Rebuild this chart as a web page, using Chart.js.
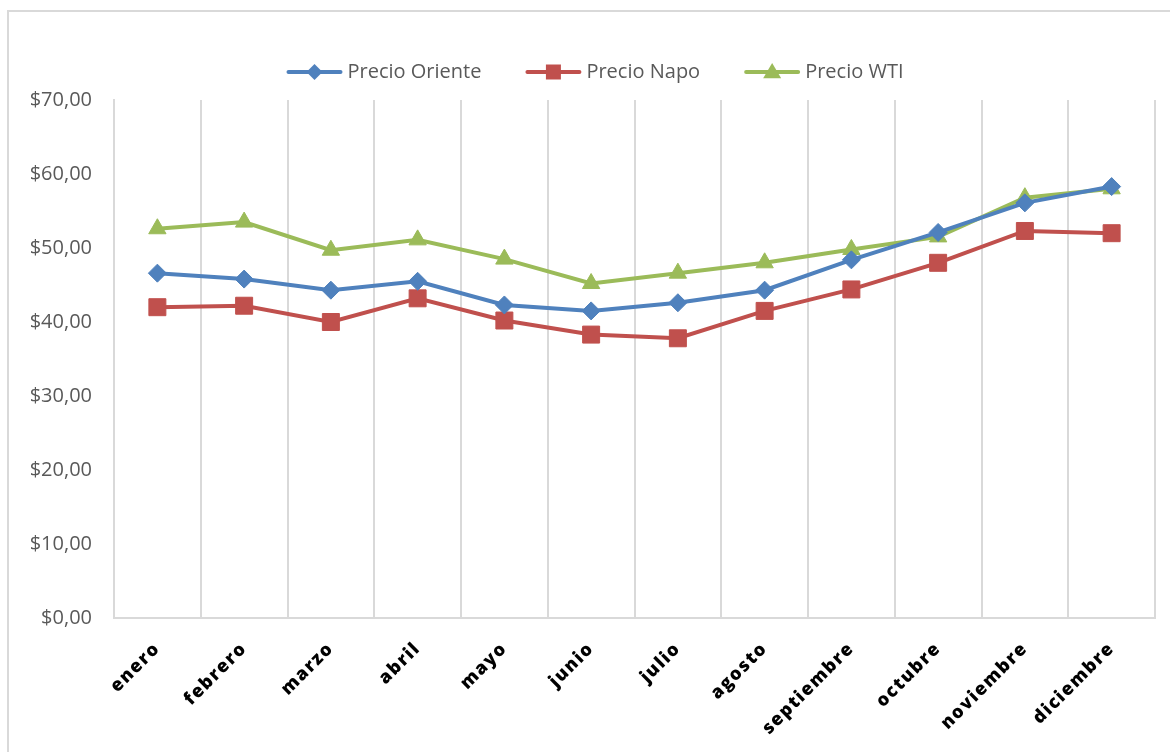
<!DOCTYPE html>
<html>
<head>
<meta charset="utf-8">
<script src="https://cdn.jsdelivr.net/npm/chart.js@4.4.1/dist/chart.umd.min.js"></script>
<style>
  html, body { margin: 0; padding: 0; background: #fff; }
  #wrap { width: 1170px; height: 752px; position: relative; }
</style>
</head>
<body>
<div id="wrap"><canvas id="c" width="1170" height="752"></canvas></div>
<script>
const categories = ['enero','febrero','marzo','abril','mayo','junio','julio','agosto','septiembre','octubre','noviembre','diciembre'];
const precioOriente = [46.6, 45.8, 44.3, 45.5, 42.3, 41.5, 42.6, 44.3, 48.4, 52.1, 56.1, 58.3];
const precioNapo    = [42.0, 42.2, 40.0, 43.2, 40.2, 38.3, 37.8, 41.5, 44.4, 48.0, 52.3, 52.0];
const precioWTI     = [52.6, 53.5, 49.7, 51.1, 48.5, 45.2, 46.6, 48.0, 49.8, 51.5, 56.8, 58.0];
const yTicks = [0, 10, 20, 30, 40, 50, 60, 70];

const BLUE = '#4F81BD', RED = '#C0504D', GREEN = '#9BBB59';

function fmt(v) { return '$' + v.toFixed(2).replace('.', ','); }

const frame = {
  id: 'frame',
  beforeDraw(chart) {
    const ctx = chart.ctx;
    ctx.save();
    ctx.fillStyle = '#fff';
    ctx.fillRect(0, 0, chart.width, chart.height);
    ctx.strokeStyle = '#d9d9d9';
    ctx.lineWidth = 2;
    ctx.strokeRect(8, 11, chart.width + 20, chart.height + 20);
    ctx.restore();
    // letter-spaced x labels
    const xs = chart.scales.x;
    if (xs && !xs._spaced) {
      const orig = xs.drawLabels;
      xs.drawLabels = function (area) {
        const c = this.ctx;
        c.save();
        c.letterSpacing = '1.5px';
        orig.call(this, area);
        c.restore();
      };
      xs._spaced = true;
    }
  }
};

const legendMarker = { 'rectRot': 8, 'rect': 7.5, 'triangle': 9 };

const customLegend = {
  id: 'customLegend',
  afterDraw(chart) {
    const ctx = chart.ctx;
    const items = chart.data.datasets;
    const lineLen = 52, gap = 7, spacing = 46;
    ctx.save();
    ctx.font = '20px "Open Sans"';
    const widths = items.map(d => lineLen + gap + ctx.measureText(d.label).width);
    const total = widths.reduce((a, b) => a + b, 0) + spacing * (items.length - 1);
    let x = (chart.width - total) / 2 + 11;
    const y = 72;
    items.forEach((d, i) => {
      ctx.strokeStyle = d.borderColor;
      ctx.lineWidth = 4;
      ctx.lineCap = 'round';
      ctx.beginPath();
      ctx.moveTo(x, y);
      ctx.lineTo(x + lineLen, y);
      ctx.stroke();
      ctx.fillStyle = d.borderColor;
      ctx.beginPath();
      const ps = d.pointStyle;
      const r = legendMarker[ps];
      const cx = x + lineLen / 2;
      if (ps === 'rectRot') {
        ctx.moveTo(cx - r, y); ctx.lineTo(cx, y - r);
        ctx.lineTo(cx + r, y); ctx.lineTo(cx, y + r);
      } else if (ps === 'rect') {
        ctx.rect(cx - r, y - r, 2 * r, 2 * r);
      } else {
        ctx.moveTo(cx, y - r);
        ctx.lineTo(cx + r, y + r * 0.7);
        ctx.lineTo(cx - r, y + r * 0.7);
      }
      ctx.closePath();
      ctx.fill();
      ctx.fillStyle = '#595959';
      ctx.textBaseline = 'middle';
      ctx.textAlign = 'left';
      ctx.fillText(d.label, x + lineLen + gap, y);
      x += widths[i] + spacing;
    });
    ctx.restore();
  }
};

const ds = (label, data, color, style, r) => ({
  label, data,
  borderColor: color, backgroundColor: color,
  pointBackgroundColor: color, pointBorderColor: color,
  pointStyle: style, pointRadius: r, pointHoverRadius: r,
  borderWidth: 4, tension: 0, pointBorderWidth: 1
});

new Chart(document.getElementById('c'), {
  type: 'line',
  data: {
    labels: categories,
    datasets: [
      ds('Precio Oriente', precioOriente, BLUE, 'rectRot', 9),
      ds('Precio Napo', precioNapo, RED, 'rect', 12),
      ds('Precio WTI', precioWTI, GREEN, 'triangle', 10)
    ]
  },
  options: {
    responsive: false,
    animation: false,
    events: [],
    layout: { padding: { left: 0, right: 15, top: 100, bottom: 0 } },
    plugins: {
      legend: { display: false },
      tooltip: { enabled: false }
    },
    scales: {
      x: {
        offset: true,
        grid: { display: true, offset: true, color: '#d9d9d9', lineWidth: 2, drawTicks: false },
        border: { display: true, color: '#d9d9d9', width: 2 },
        ticks: {
          color: '#000',
          font: { family: '"Open Sans"', size: 18, weight: '800' },
          maxRotation: 45, minRotation: 45,
          padding: 20,
          autoSkip: false
        },
        afterFit(scale) { scale.height = 134; }
      },
      y: {
        min: 0, max: 70,
        afterBuildTicks(scale) { scale.ticks = yTicks.map(v => ({ value: v })); },
        grid: { display: false, drawTicks: false },
        border: { display: true, color: '#d9d9d9', width: 2 },
        ticks: {
          color: '#595959',
          font: { family: '"Open Sans"', size: 20 },
          padding: 22,
          callback: v => fmt(v)
        },
        afterFit(scale) { scale.width = 114; }
      }
    }
  },
  plugins: [frame, customLegend]
});
</script>
</body>
</html>
